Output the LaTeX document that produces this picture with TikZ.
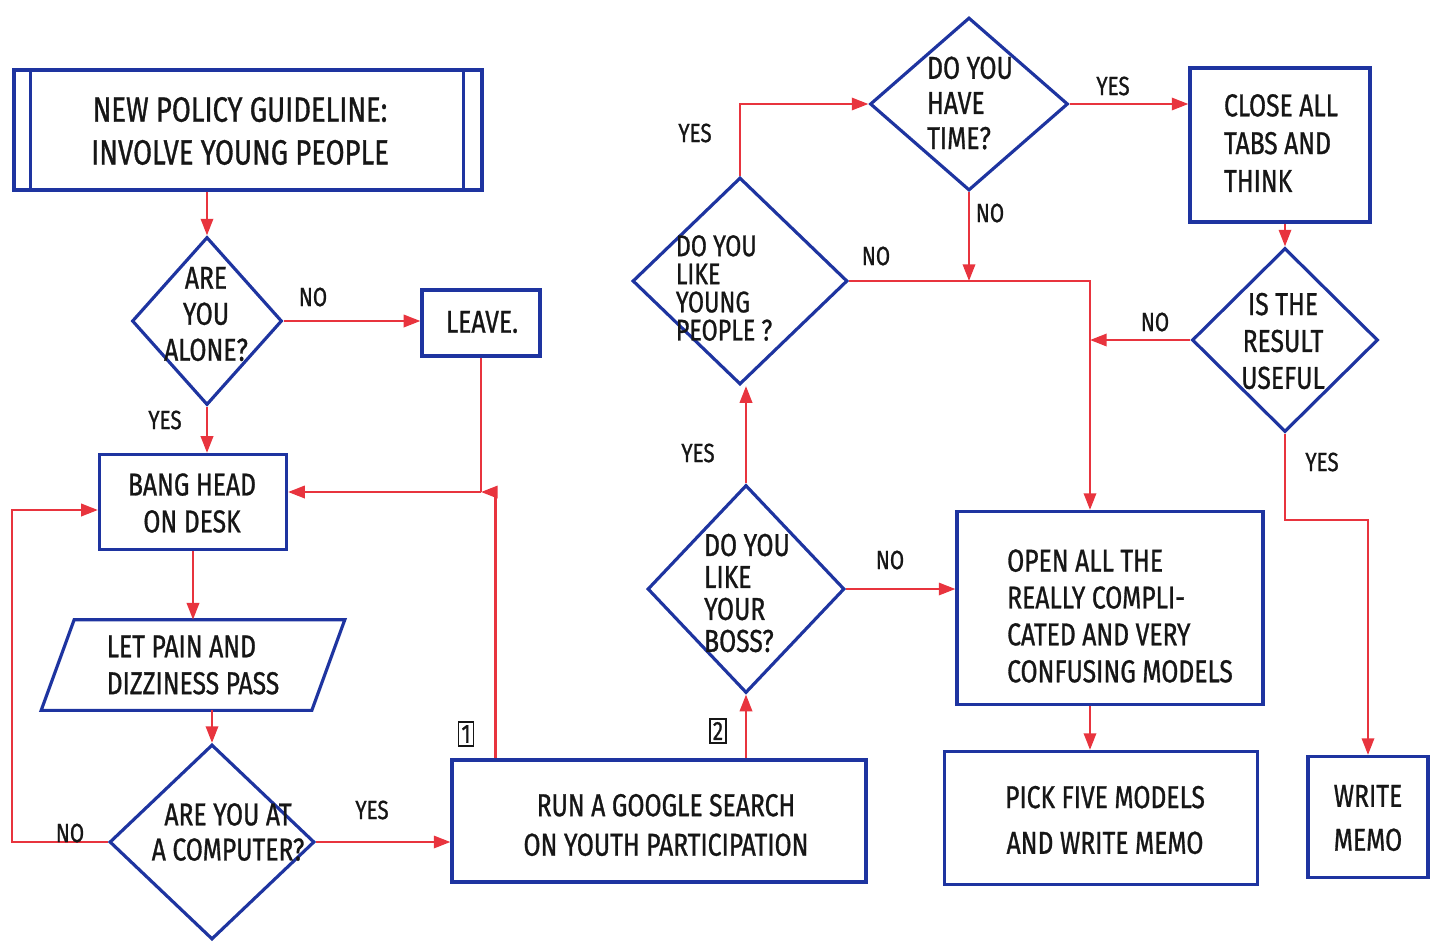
\documentclass[tikz,border=0pt]{standalone}
\usepackage{fontspec}
\setmainfont{Fira Sans}[FakeStretch=0.78, FakeBold=0.9]
\usetikzlibrary{shapes.geometric,arrows.meta}
\definecolor{pen}{RGB}{30,52,160}
\definecolor{flow}{RGB}{232,52,62}
\definecolor{ink}{RGB}{22,22,22}

\begin{document}
\begin{tikzpicture}[x=0.02cm,y=-0.02cm,
  box/.style={draw=pen, line width=1.8pt, rectangle, inner sep=0pt},
  decision/.style={draw=pen, line width=1.8pt, diamond, inner sep=0pt},
  txt/.style={text=ink, font=\fontsize{18}{21}\selectfont, align=center, inner sep=0pt},
  ltxt/.style={txt, align=left},
  lbl/.style={text=ink, font=\fontsize{15}{18}\selectfont, inner sep=0pt},
  flowline/.style={draw=flow, line width=1.4pt},
  arr/.style={flowline, -{Triangle[length=9.5pt,width=7pt]}},
  tag/.style={draw=ink, line width=1pt, text=ink, font=\fontsize{15}{15}\selectfont, inner sep=1.8pt}
]
\useasboundingbox (0,0) rectangle (1441,941);

% ---------- left column ----------
\node[box, minimum width=9.36cm, minimum height=2.4cm] (policy) at (248,130) {};
\draw[pen, line width=1.8pt] ([xshift=0.36cm]policy.north west) -- ([xshift=0.36cm]policy.south west)
                             ([xshift=-0.4cm]policy.north east) -- ([xshift=-0.4cm]policy.south east);
\node[txt, font=\fontsize{20}{24.4}\selectfont] (policytext) at (240,131) {NEW POLICY GUIDELINE:\\INVOLVE YOUNG PEOPLE};

\node[decision, minimum width=3.0cm, minimum height=3.36cm] (alone) at (207,321) {};
\node[txt, font=\fontsize{18}{20.5}\selectfont] (alonetext) at (206,314) {ARE\\YOU\\ALONE?};

\node[box, minimum width=2.36cm, minimum height=1.32cm] (leave) at (481,323) {};
\node[txt] (leavetext) at (482,322) {LEAVE.};

\node[box, minimum width=3.74cm, minimum height=1.9cm] (bang) at (193,502) {};
\node[txt] (bangtext) at (192,503) {BANG HEAD\\ON DESK};

% slanted input/output box
\node[ltxt, minimum width=5.4cm, minimum height=1.8cm] (pain) at (193,665) {LET PAIN AND\\DIZZINESS PASS};
\draw[pen, line width=1.8pt]
  ([xshift=0.33cm]pain.north west) -- ([xshift=0.33cm]pain.north east)
  -- ([xshift=-0.33cm]pain.south east) -- ([xshift=-0.33cm]pain.south west) -- cycle;

\node[decision, minimum width=4.1cm, minimum height=3.9cm] (comp) at (212,842) {};
\node[txt, font=\fontsize{18}{20}\selectfont] (comptext) at (228,832) {ARE YOU AT\\A COMPUTER?};

% ---------- middle column ----------
\node[box, minimum width=8.28cm, minimum height=2.44cm] (run) at (659,821) {};
\node[txt, font=\fontsize{18}{22.5}\selectfont] (runtext) at (666,825) {RUN A GOOGLE SEARCH\\ON YOUTH PARTICIPATION};

\node[tag] (tag1) at (466,734) {1};
\node[tag] (tag2) at (718,731) {2};

\node[decision, minimum width=3.94cm, minimum height=4.16cm] (boss) at (746,589) {};
\node[ltxt, font=\fontsize{18}{18.2}\selectfont] (bosstext) at (747,593) {DO YOU\\LIKE\\YOUR\\BOSS?};

\node[decision, minimum width=4.3cm, minimum height=4.14cm] (young) at (740,281) {};
\node[ltxt, font=\fontsize{17}{16}\selectfont] (youngtext) at (724,288) {DO YOU\\LIKE\\YOUNG\\PEOPLE ?};

\node[decision, minimum width=3.96cm, minimum height=3.46cm] (time) at (969,104) {};
\node[ltxt, font=\fontsize{18}{20}\selectfont] (timetext) at (970,103) {DO YOU\\HAVE\\TIME?};

% ---------- right column ----------
\node[box, minimum width=3.6cm, minimum height=3.08cm] (close) at (1280,145) {};
\node[ltxt, font=\fontsize{18}{21.5}\selectfont] (closetext) at (1281,143) {CLOSE ALL\\TABS AND\\THINK};

\node[decision, minimum width=3.72cm, minimum height=3.68cm] (result) at (1285,340) {};
\node[txt] (resulttext) at (1283,341) {IS THE\\RESULT\\USEFUL};

\node[box, minimum width=6.12cm, minimum height=3.86cm] (open) at (1110,608) {};
\node[ltxt] (opentext) at (1120,616) {OPEN ALL THE\\REALLY COMPLI-\\CATED AND VERY\\CONFUSING MODELS};

\node[box, minimum width=6.26cm, minimum height=2.66cm] (pick) at (1101,818) {};
\node[txt, font=\fontsize{18}{26}\selectfont] (picktext) at (1105,820) {PICK FIVE MODELS\\AND WRITE MEMO};

\node[box, minimum width=2.4cm, minimum height=2.42cm] (memo) at (1368,817) {};
\node[txt, font=\fontsize{18}{25}\selectfont] (memotext) at (1368,818) {WRITE\\MEMO};

% ---------- connectors ----------
\coordinate (noturn) at (12,842);
\coordinate (merge) at (481,492);
\coordinate (nocol) at (1090,280);
\coordinate (yesturn) at (1368,520);

\draw[arr] (alone.north |- policy.south) -- (alone.north);
\draw[arr] (alone.east) -- (alone.east -| leave.west);
\draw[arr] (alone.south) -- (alone.south |- bang.north);
\draw[arr] (bang.south) -- (bang.south |- pain.north);
\draw[arr] (comp.north |- pain.south) -- (comp.north);
\draw[arr] (comp.west) -- (comp.west -| noturn) |- ([yshift=-0.16cm]bang.west);
\draw[arr] (comp.east) -- (comp.east -| run.west);

\draw[flowline] (leave.south) -- (merge);
\draw[arr] ([xshift=0.9cm]run.north west) |- (merge);
\draw[arr] (merge) -- (merge -| bang.east);

\draw[arr] (boss.south |- run.north) -- (boss.south);
\draw[arr] (boss.north) -- (boss.north |- young.south);
\draw[arr] (boss.east) -- (boss.east -| open.west);
\draw[arr] (young.north) |- (time.west);
\draw[arr] (young.east) -- (young.east -| nocol) -- (nocol |- open.north);
\draw[arr] (time.south) -- (time.south |- young.east);
\draw[arr] (time.east) -- (time.east -| close.west);
\draw[arr] (result.north |- close.south) -- (result.north);
\draw[arr] (result.west) -- (result.west -| nocol);
\draw[arr] (result.south) |- (yesturn) -- (memo.north);
\draw[arr] (nocol |- open.south) -- (nocol |- pick.north);

% ---------- branch labels ----------
\node[lbl] (l1) at (313,297) {NO};
\node[lbl] (l2) at (165,420) {YES};
\node[lbl] (l3) at (70,833) {NO};
\node[lbl] (l4) at (372,810) {YES};
\node[lbl] (l5) at (695,133) {YES};
\node[lbl] (l6) at (876,256) {NO};
\node[lbl] (l7) at (698,453) {YES};
\node[lbl] (l8) at (890,560) {NO};
\node[lbl] (l9) at (1113,86) {YES};
\node[lbl] (l10) at (990,213) {NO};
\node[lbl] (l11) at (1155,322) {NO};
\node[lbl] (l12) at (1322,462) {YES};
\end{tikzpicture}
\end{document}
